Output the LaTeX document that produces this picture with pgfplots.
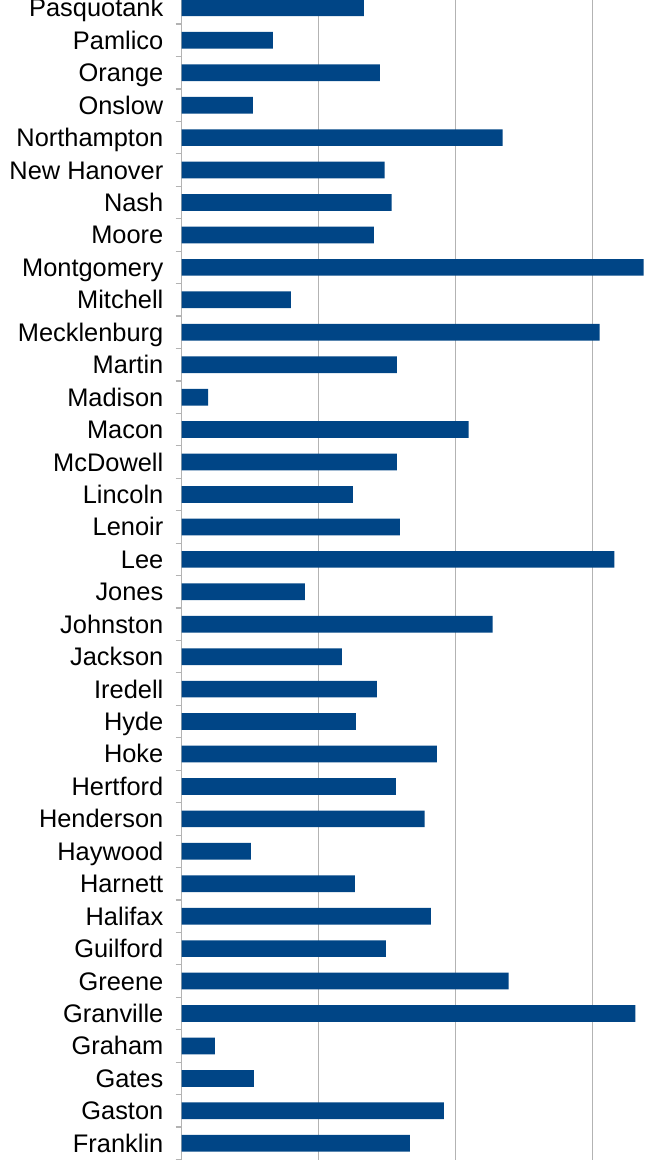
\documentclass[border=0pt]{standalone}
\usepackage{pgfplots}
\pgfplotsset{compat=1.18}
\usepackage{fontspec}
\setmainfont{Liberation Sans}
\definecolor{barblue}{HTML}{004586}
\definecolor{gridgray}{HTML}{B3B3B3}
\begin{document}
\begin{tikzpicture}
\begin{axis}[
  x=68.5pt, y=16.22pt,
  xmin=0, xmax=3.6, ymin=-0.5, ymax=36.6,
  xbar, bar width=8.35pt,
  axis x line*=bottom, axis y line*=left,
  x axis line style={draw=none},
  y axis line style={draw=gridgray, line width=0.6pt},
  xtick={1,2,3}, xticklabels={},
  xmajorgrids, grid style={gridgray, line width=0.5pt},
  ytick={0,...,35},
  yticklabels={Franklin,Gaston,Gates,Graham,Granville,Greene,Guilford,Halifax,Harnett,Haywood,Henderson,Hertford,Hoke,Hyde,Iredell,Jackson,Johnston,Jones,Lee,Lenoir,Lincoln,McDowell,Macon,Madison,Martin,Mecklenburg,Mitchell,Montgomery,Moore,Nash,New Hanover,Northampton,Onslow,Orange,Pamlico,Pasquotank},
  minor ytick={-0.5,0.5,...,35.5},
  tick align=outside,
  major tick length=0pt,
  minor tick length=3pt,
  tick style={gridgray, line width=0.6pt},
  typeset ticklabels with strut,
  yticklabel style={font=\fontsize{12.7}{15}\selectfont, inner sep=0pt, xshift=-9pt, yshift=-1.5pt},
]
\addplot[fill=barblue, draw=none] coordinates {
(1.665,0) (1.913,1) (0.527,2) (0.243,3) (3.312,4) (2.386,5) (1.490,6) (1.818,7) (1.264,8) (0.505,9)
(1.774,10) (1.563,11) (1.862,12) (1.271,13) (1.424,14) (1.169,15) (2.270,16) (0.899,17) (3.159,18) (1.592,19)
(1.249,20) (1.570,21) (2.095,22) (0.192,23) (1.570,24) (3.050,25) (0.797,26) (3.372,27) (1.402,28) (1.533,29)
(1.482,30) (2.343,31) (0.520,32) (1.446,33) (0.666,34) (1.329,35)
};
\coordinate (o) at (axis cs:0,-0.5);
\end{axis}
\pgfresetboundingbox
\path[use as bounding box] ([shift={(-90.85pt,-1.25pt)}]o) rectangle ([shift={(231.65pt,579.75pt)}]o);
\end{tikzpicture}
\end{document}
